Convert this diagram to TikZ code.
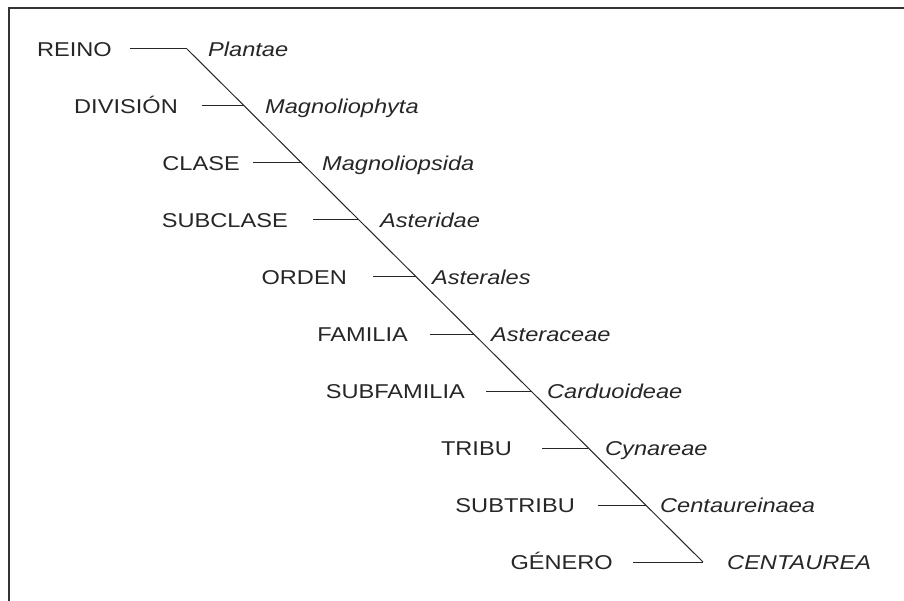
\documentclass[tikz,border=0pt]{standalone}
\usepackage{fontspec}
\setmainfont[FakeStretch=1.18]{Liberation Sans}
\usepackage{tikz}

\tikzset{
	rank/.style={anchor=east, inner sep=0pt, text height=14.3pt, text depth=0pt, text=black!85, font=\fontsize{20}{24}\selectfont},
	taxon/.style={anchor=west, inner sep=0pt, text height=14.3pt, text depth=0pt, text=black!85, font=\fontsize{20}{24}\selectfont\itshape},
	branch/.style={line width=1pt, black!85},
	frame/.style={line width=1.6pt, black!80}
}

\begin{document}
\begin{tikzpicture}[x=1pt, y=-1pt]
		\useasboundingbox (0,0) rectangle (904,601);
		\draw[frame] (9,601) -- (9,8) -- (904,8);

		\coordinate (D0) at (187, 49);
		\coordinate (D1) at (244.3, 106);
		\coordinate (D2) at (301.7, 163);
		\coordinate (D3) at (359, 220);
		\coordinate (D4) at (416.3, 277);
		\coordinate (D5) at (473.7, 334);
		\coordinate (D6) at (531, 391);
		\coordinate (D7) at (588.3, 448);
		\coordinate (D8) at (645.7, 505);
		\coordinate (D9) at (703, 562);

		\node[rank] (reino) at (112, 49) {REINO};
		\node[rank] (division) at (178, 106) {DIVISIÓN};
		\node[rank] (clase) at (240, 163) {CLASE};
		\node[rank] (subclase) at (288, 220) {SUBCLASE};
		\node[rank] (orden) at (347, 277) {ORDEN};
		\node[rank] (familia) at (408, 334) {FAMILIA};
		\node[rank] (subfamilia) at (465, 391) {SUBFAMILIA};
		\node[rank] (tribu) at (512, 448) {TRIBU};
		\node[rank] (subtribu) at (575, 505) {SUBTRIBU};
		\node[rank] (genero) at (613, 562) {GÉNERO};

		\node[taxon] (plantae) at (208, 49) {Plantae};
		\node[taxon] (magnoliophyta) at (265, 106) {Magnoliophyta};
		\node[taxon] (magnoliopsida) at (322, 163) {Magnoliopsida};
		\node[taxon] (asteridae) at (380, 220) {Asteridae};
		\node[taxon] (asterales) at (432, 277) {Asterales};
		\node[taxon] (asteraceae) at (491, 334) {Asteraceae};
		\node[taxon] (carduoideae) at (547, 391) {Carduoideae};
		\node[taxon] (cynareae) at (605, 448) {Cynareae};
		\node[taxon] (centaureinaea) at (660, 505) {Centaureinaea};
		\node[taxon] (centaurea) at (727, 562) {CENTAUREA};

		\draw[branch] (D0) -- (D9);
		\draw[branch] ([xshift=18]reino.east) -- (D0);
		\draw[branch] ([xshift=24]division.east) -- (D1);
		\draw[branch] ([xshift=13]clase.east) -- (D2);
		\draw[branch] ([xshift=25]subclase.east) -- (D3);
		\draw[branch] ([xshift=26]orden.east) -- (D4);
		\draw[branch] ([xshift=22]familia.east) -- (D5);
		\draw[branch] ([xshift=21]subfamilia.east) -- (D6);
		\draw[branch] ([xshift=30]tribu.east) -- (D7);
		\draw[branch] ([xshift=23]subtribu.east) -- (D8);
		\draw[branch] ([xshift=20]genero.east) -- (D9);
	\end{tikzpicture}
\end{document}
